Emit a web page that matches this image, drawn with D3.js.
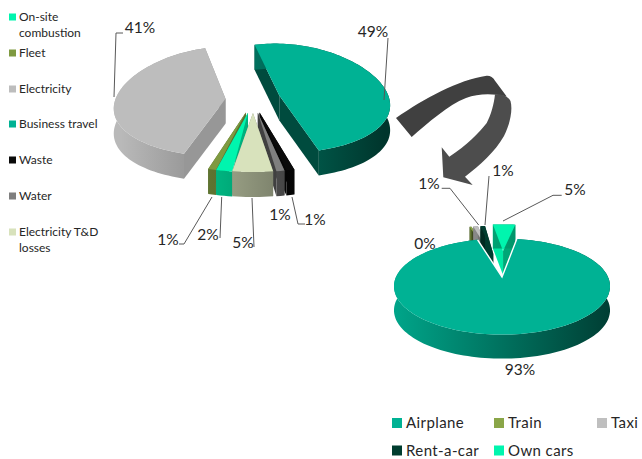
<!DOCTYPE html>
<html>
<head>
<meta charset="utf-8">
<script src="https://cdn.jsdelivr.net/npm/d3@7"></script>
<style>
html,body{margin:0;padding:0;background:#fff}
svg{display:block}
text{font-family:Lato,"Open Sans",sans-serif;fill:#262626}
</style>
</head>
<body>
<svg id="chart" width="642" height="459"></svg>
<script>
// Emissions by source, with business travel broken down in a second pie.
const sourceNames = ["Business travel","Waste","Water","Electricity T&D losses","On-site combustion","Fleet","Electricity"];
const sourceShares = [49,1,1,5,2,1,41];
const travelNames = ["Airplane","Train","Taxi","Rent-a-car","Own cars"];
const travelShares = [93,0.4,1,1,5];

const sourceLegend = ["On-site combustion","Fleet","Electricity","Business travel","Waste","Water","Electricity T&D losses"];
const travelLegend = ["Airplane","Train","Taxi","Rent-a-car","Own cars"];

const colors = {
  "Business travel":"#00b294","Waste":"#0a0a0a","Water":"#7f7f7f",
  "Electricity T&D losses":"#d8e2bc","On-site combustion":"#00f5ae","Fleet":"#7f9a41",
  "Electricity":"#bdbdbd","Airplane":"#00b294","Train":"#8aa648","Taxi":"#bfbfbf",
  "Rent-a-car":"#003d2f","Own cars":"#00f5ae"
};
// Darkening applied to the two straight side faces of each wedge: [leading edge, trailing edge].
const sideShade = {
  "Business travel":[.42,.42],"Waste":[.6,.6],"Water":[.5,.5],
  "Electricity T&D losses":[.6,.6],"On-site combustion":[.72,.72],"Fleet":[.72,.72],
  "Electricity":[.8,.8],"Airplane":[.5,.5],"Train":[.45,.45],"Taxi":[.6,.6],
  "Rent-a-car":[1,1],"Own cars":[.95,.68]
};
// Darkening of the curved outer wall, left to right across the pie.
const wallShadeLeft = .98, wallShadeRight = .3;

const svg = d3.select("#chart");
const defs = svg.append("defs");
const deg = Math.PI/180;
const pathOf = d3.line();

function drawPie(cfg){
  const {names,values,cx,cy,rx,ry,k,k2,depth,start,explode,order,turn={}} = cfg;
  const project = (U,V)=>[cx+rx*U*(1+k*V), cy+ry*V*(1+k2*V)];
  const pie = d3.pie().sort(null).startAngle(start*deg).endAngle((start+360)*deg);
  const arcs = pie(values).map((a,i)=>({...a,name:names[i]}));
  const g = svg.append("g");
  const drop = p=>[p[0],p[1]+depth];
  const shade = (c,s)=>{const q=d3.rgb(c);return d3.rgb(q.r*s,q.g*s,q.b*s).formatHex();};

  order.map(n=>arcs.find(a=>a.name===n)).forEach((a,idx)=>{
    const base = colors[a.name];
    // Each wedge keeps its angular size; an exploded wedge may sit slightly turned.
    const a0 = a.startAngle+(turn[a.name]||0)*deg, a1 = a.endAngle+(turn[a.name]||0)*deg;
    const mid = (a0+a1)/2;
    const e = explode[a.name];
    const ou = e*Math.sin(mid), ov = -e*Math.cos(mid);
    const apex = project(ou,ov);
    const steps = Math.max(2,Math.ceil((a1-a0)/(2*deg)));
    const rim = d3.range(steps+1).map(i=>{
      const t = a0+(a1-a0)*i/steps;
      return project(ou+Math.sin(t),ov-Math.cos(t));
    });
    const id = "wall-"+cfg.key+"-"+idx;
    const grad = defs.append("linearGradient").attr("id",id)
      .attr("gradientUnits","userSpaceOnUse")
      .attr("x1",cx-rx*1.2).attr("x2",cx+rx*1.2).attr("y1",0).attr("y2",0);
    grad.append("stop").attr("offset",0).attr("stop-color",shade(base,wallShadeLeft));
    grad.append("stop").attr("offset",1).attr("stop-color",shade(base,wallShadeRight));

    const s = sideShade[a.name];
    const first = rim[0], last = rim[rim.length-1];
    g.append("path").attr("d",pathOf([apex,first,drop(first),drop(apex)])+"Z").attr("fill",shade(base,s[0]));
    g.append("path").attr("d",pathOf([apex,last,drop(last),drop(apex)])+"Z").attr("fill",shade(base,s[1]));
    g.append("path").attr("d",pathOf(rim.concat(rim.map(drop).reverse()))+"Z").attr("fill",`url(#${id})`);
    g.append("path").attr("d",pathOf([apex].concat(rim))+"Z").attr("fill",base);

    // The wedge cut out of the large slice is outlined in white.
    if(cfg.outline===a.name){
      g.append("path").attr("d",pathOf([first,apex,last])).attr("fill","none")
        .attr("stroke","#fff").attr("stroke-width",1.4);
    }
  });
}

drawPie({
  key:"sources",names:sourceNames,values:sourceShares,
  cx:253,cy:99,rx:110,ry:55,k:.15,k2:.05,depth:25,start:-15,
  explode:Object.fromEntries(sourceNames.map(n=>[n,.25])),
  turn:{"Business travel":2,"Waste":3.5,"Water":3.5,"Electricity T&D losses":2.5,"Fleet":-1},
  order:["Electricity","Business travel","Fleet","On-site combustion","Waste","Water","Electricity T&D losses"]
});

drawPie({
  key:"travel",names:travelNames,values:travelShares,
  cx:502,cy:277,rx:106,ry:48,k:.2,k2:.2,depth:24,start:10,
  explode:{"Airplane":0,"Train":.55,"Taxi":.55,"Rent-a-car":.55,"Own cars":.62},
  order:["Train","Taxi","Rent-a-car","Own cars","Airplane"],
  outline:"Airplane"
});

// Curved block arrow leading from the business-travel slice to its breakdown.
svg.append("path")
  .attr("d","M396,118 C425,98 458,80 486.7,75.7 C490,75.5 493,77 495,80.7 L506.7,96.5 C490,93 478,94 466,98 C448,105 428,123 411.7,137 Z")
  .attr("fill","#404040");
svg.append("path")
  .attr("d","M495,94.3 C502,93.5 508,96 510.5,101 C513,110 510,124 504,136 C495,152 480,165 465,176.7 L472.7,185 L443.3,177.3 L441.7,147.3 L449.3,156.7 C466,146 480,132 486.7,123 C491,115 494,104 495,94.3 Z")
  .attr("fill","#4d4d4d");

// Data labels with their leader lines.
const pct = d3.format(".0f");
const labelAnchors = [
  {v:sourceShares[6],x:140,y:27},
  {v:sourceShares[0],x:373,y:31},
  {v:sourceShares[3],x:243,y:242},
  {v:sourceShares[4],x:208,y:234},
  {v:sourceShares[5],x:168,y:239},
  {v:sourceShares[2],x:280,y:214},
  {v:sourceShares[1],x:315,y:219},
  {v:travelShares[0],x:520,y:369},
  {v:travelShares[1],x:425,y:243},
  {v:travelShares[2],x:429,y:183},
  {v:travelShares[3],x:503,y:170},
  {v:travelShares[4],x:575,y:189}
];
const leaders = [
  [[114,97],[116,33],[123,33]],
  [[384,100],[388,38]],
  [[252,198],[254,247]],
  [[221.7,197],[220,238]],
  [[212,197],[184,244],[179,244]],
  [[292,197],[298,224],[305,224]],
  [[441.7,188.3],[450,188.3],[478.7,225]],
  [[489,176],[485,225]],
  [[561.7,195.3],[553,195.3],[503,221]]
];
svg.append("g").selectAll("path").data(leaders).join("path")
  .attr("d",d=>pathOf(d)).attr("fill","none").attr("stroke","#595959").attr("stroke-width",1);
svg.append("g").selectAll("text").data(labelAnchors).join("text")
  .attr("x",d=>d.x).attr("y",d=>d.y).attr("dy","0.36em").attr("text-anchor","middle")
  .attr("font-size",15.5).text(d=>pct(d.v)+"%");

// Legend for the main pie: one column, long names wrapped on two lines.
const sourceRows = [17,53,89,124,160,196,232];
const wrapped = {"On-site combustion":["On-site","combustion"],"Electricity T&D losses":["Electricity T&D","losses"]};
const leftLegend = svg.append("g").selectAll("g").data(sourceLegend).join("g");
leftLegend.append("rect").attr("x",9).attr("y",(d,i)=>sourceRows[i]-3.5).attr("width",7).attr("height",7)
  .attr("fill",d=>colors[d]);
leftLegend.selectAll("text").data((d,i)=>(wrapped[d]||[d]).map((t,j)=>({t,y:sourceRows[i]+j*16}))).join("text")
  .attr("x",19).attr("y",d=>d.y).attr("dy","0.36em").attr("font-size",12).text(d=>d.t);

// Legend for the breakdown pie: two rows.
const travelCols = [392,494,597,392,494];
const travelRows = [423,423,423,450.5,450.5];
const rightLegend = svg.append("g").selectAll("g").data(travelLegend).join("g");
rightLegend.append("rect").attr("x",(d,i)=>travelCols[i]).attr("y",(d,i)=>travelRows[i]-5).attr("width",10).attr("height",10)
  .attr("fill",d=>colors[d]);
rightLegend.append("text").attr("x",(d,i)=>travelCols[i]+14).attr("y",(d,i)=>travelRows[i]).attr("dy","0.36em")
  .attr("font-size",15).attr("letter-spacing",.4).text(d=>d);
</script>
</body>
</html>
